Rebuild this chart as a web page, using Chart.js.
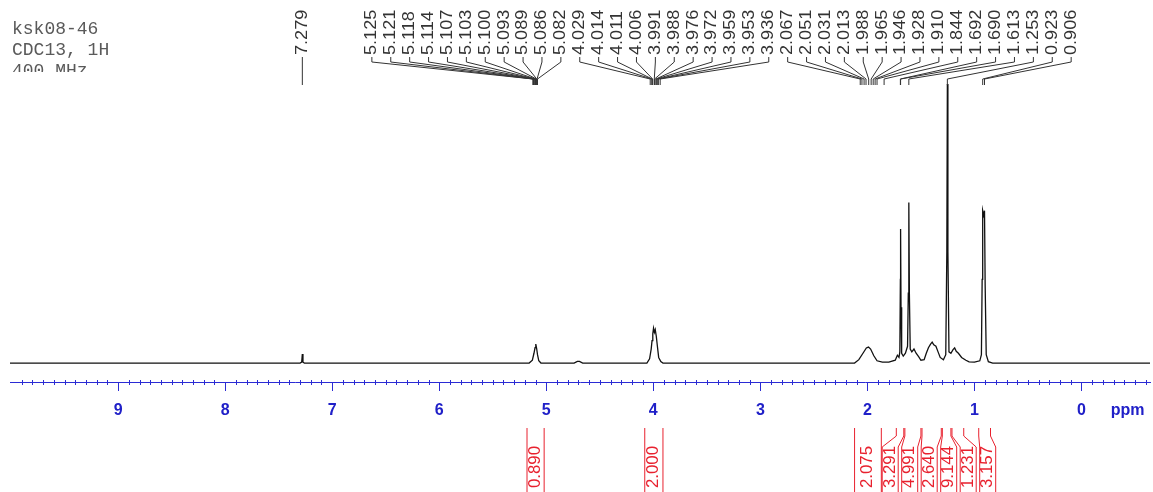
<!DOCTYPE html>
<html>
<head>
<meta charset="utf-8">
<script src="https://cdn.jsdelivr.net/npm/chart.js@4/dist/chart.umd.min.js"></script>
<style>
html, body { margin: 0; padding: 0; background: #fff; }
</style>
</head>
<body>
<canvas id="nmr" width="1153" height="492"></canvas>
<script>
// spectrum trace (ppm, relative intensity, 100 = tallest line)
const shiftPpm = [
  10.01, 7.30, 7.285, 7.279, 7.273, 7.26,
  5.16, 5.13, 5.115, 5.105, 5.098, 5.090, 5.082, 5.07, 5.05,
  4.74, 4.71, 4.69, 4.66,
  4.06, 4.035, 4.02, 4.012, 4.005, 3.998, 3.990, 3.982, 3.972, 3.962, 3.950, 3.93, 3.91,
  2.12, 2.08, 2.04, 2.01, 1.99, 1.97, 1.94, 1.91, 1.86,
  1.80, 1.74, 1.72, 1.705, 1.697, 1.692, 1.690, 1.686, 1.680, 1.665, 1.645, 1.625,
  1.618, 1.613, 1.608, 1.600, 1.585, 1.565, 1.545, 1.52, 1.50, 1.47, 1.45, 1.43,
  1.41, 1.395, 1.38, 1.36, 1.34, 1.32, 1.29, 1.268, 1.258, 1.253, 1.248, 1.238,
  1.22, 1.20, 1.185, 1.17, 1.15, 1.12, 1.08, 1.05, 1.00,
  0.95, 0.935, 0.928, 0.923, 0.914, 0.906, 0.900, 0.89, 0.87, 0.83, -0.64
];
const intensity = [
  0, 0, 0.3, 3.2, 0.3, 0,
  0, 1.0, 3.5, 5.5, 6.8, 5.2, 3.0, 0.8, 0,
  0, 0.6, 0.6, 0,
  0, 1.5, 5, 8, 10.5, 12.5, 11, 12, 9.5, 6, 2, 0.5, 0,
  0, 1.2, 3.6, 5.4, 5.7, 5.0, 2.6, 0.8, 0.3,
  0.3, 1.0, 2.8, 2.0, 4, 30, 48, 20, 3.5, 2.5, 3.5, 6,
  25, 57.5, 25, 5, 4, 5, 3.5, 2.2, 1.0, 1.2, 3.5, 5.5,
  6.8, 7.5, 6.5, 6.0, 4.0, 2.0, 1.2, 3, 40, 100, 40, 4,
  3.5, 4.8, 5.4, 4.2, 3.5, 2.0, 1.0, 0.4, 0.3,
  0.8, 3, 30, 54.6, 53, 54.6, 28, 3, 0.5, 0, 0
];
const tickValues = [0, 1, 2, 3, 4, 5, 6, 7, 8, 9];
const peakLabels = [
  7.279,
  5.125, 5.121, 5.118, 5.114, 5.107, 5.103, 5.100, 5.093, 5.089, 5.086, 5.082,
  4.029, 4.014, 4.011, 4.006, 3.991, 3.988, 3.976, 3.972, 3.959, 3.953, 3.936,
  2.067, 2.051, 2.031, 2.013, 1.988, 1.965, 1.946, 1.928, 1.910, 1.844,
  1.692, 1.690, 1.613, 1.253, 0.923, 0.906
];
const integralFrom = [5.18, 4.08, 2.12, 1.73, 1.65, 1.49, 1.30, 1.21, 0.96];
const integralTo = [5.02, 3.91, 1.87, 1.66, 1.50, 1.31, 1.22, 1.10, 0.85];
const integralValues = ['0.890', '2.000', '2.075', '3.291', '4.991', '2.640', '9.144', '1.231', '3.157'];
const headerLines = ['ksk08-46', 'CDC13, 1H', '400 MHz'];

const axisBlue = '#2b2bd4';
const integralRed = '#e8212e';

// place labels at their targets, packing crowded ones evenly around the group mean
function spread(targets, gap) {
  let groups = targets.map((t, i) => ({ idx: [i], sum: t }));
  const place = g => {
    const c = g.sum / g.idx.length;
    return g.idx.map((_, k) => c + (k - (g.idx.length - 1) / 2) * gap);
  };
  let changed = true;
  while (changed) {
    changed = false;
    for (let i = 0; i < groups.length - 1; i++) {
      const a = place(groups[i]), b = place(groups[i + 1]);
      if (b[0] - a[a.length - 1] < gap) {
        groups[i] = { idx: groups[i].idx.concat(groups[i + 1].idx), sum: groups[i].sum + groups[i + 1].sum };
        groups.splice(i + 1, 1);
        changed = true;
        break;
      }
    }
  }
  const out = [];
  groups.forEach(g => place(g).forEach((x, k) => { out[g.idx[k]] = x; }));
  return out;
}

function vText(ctx, text, x, y, stretch) {
  ctx.save();
  ctx.translate(x, y);
  ctx.rotate(-Math.PI / 2);
  ctx.scale(stretch, 1);
  ctx.textAlign = 'left';
  ctx.textBaseline = 'middle';
  ctx.fillText(text, 0, 0);
  ctx.restore();
}

const nmrDecor = {
  id: 'nmrDecor',
  afterDraw(chart) {
    const { ctx, chartArea } = chart;
    const x = chart.scales.x;
    const axisY = chartArea.bottom;
    ctx.save();

    // minor ticks every 0.1 ppm
    ctx.strokeStyle = axisBlue;
    ctx.lineWidth = 1;
    ctx.beginPath();
    for (let i = -6; i <= 100; i++) {
      if (i % 10 === 0) continue;
      const px = Math.round(x.getPixelForValue(i / 10)) + 0.5;
      ctx.moveTo(px, axisY - 2);
      ctx.lineTo(px, axisY + 3);
    }
    ctx.stroke();

    ctx.fillStyle = '#2020c8';
    ctx.font = 'bold 16px "Liberation Sans"';
    ctx.textAlign = 'center';
    ctx.textBaseline = 'middle';
    ctx.fillText('ppm', x.getPixelForValue(-0.43), axisY + 29);

    // header
    ctx.save();
    ctx.beginPath();
    ctx.rect(0, 0, 200, 72);
    ctx.clip();
    ctx.fillStyle = '#5a5a5a';
    ctx.font = '18px "Liberation Mono"';
    ctx.textAlign = 'left';
    ctx.textBaseline = 'alphabetic';
    headerLines.forEach((t, i) => ctx.fillText(t, 12, 34 + i * 21));
    ctx.restore();

    // peak labels
    const peakX = peakLabels.map(v => x.getPixelForValue(v));
    const labelX = spread(peakX, 18.9);
    ctx.fillStyle = '#333';
    ctx.strokeStyle = '#333';
    ctx.font = '16px "Liberation Sans"';
    peakLabels.forEach((v, i) => {
      vText(ctx, v.toFixed(3), labelX[i], 55, 1.13);
      ctx.beginPath();
      ctx.moveTo(labelX[i], 57);
      ctx.lineTo(labelX[i], 62);
      ctx.lineTo(peakX[i], 79);
      ctx.lineTo(peakX[i], 85);
      ctx.stroke();
    });

    // integrals
    const fromX = integralFrom.map(v => x.getPixelForValue(v));
    const toX = integralTo.map(v => x.getPixelForValue(v));
    const centers = fromX.map((a, i) => (a + toX[i]) / 2);
    const slots = spread(centers, 19.5);
    ctx.strokeStyle = integralRed;
    ctx.fillStyle = integralRed;
    ctx.font = '16px "Liberation Sans"';
    integralValues.forEach((t, i) => {
      const half = Math.abs(slots[i] - centers[i]) < 0.5 ? (toX[i] - fromX[i]) / 2 : 8;
      [[fromX[i], slots[i] - half], [toX[i], slots[i] + half]].forEach(([top, bot]) => {
        ctx.beginPath();
        ctx.moveTo(top, 428);
        ctx.lineTo(top, 436);
        ctx.lineTo(bot, 447);
        ctx.lineTo(bot, 492);
        ctx.stroke();
      });
      vText(ctx, t, slots[i], 488, 1.05);
    });

    ctx.restore();
  }
};

new Chart(document.getElementById('nmr').getContext('2d'), {
  type: 'scatter',
  data: {
    datasets: [{
      data: shiftPpm.map((p, i) => ({ x: p, y: intensity[i] })),
      showLine: true,
      borderColor: '#111',
      borderWidth: 1.3,
      pointRadius: 0,
      tension: 0
    }]
  },
  options: {
    responsive: false,
    animation: false,
    layout: { padding: { left: 10, right: 3, top: 84, bottom: 0 } },
    plugins: { legend: { display: false }, tooltip: { enabled: false } },
    scales: {
      x: {
        type: 'linear',
        reverse: true,
        min: -0.64,
        max: 10.01,
        afterBuildTicks: axis => { axis.ticks = tickValues.map(v => ({ value: v })); },
        afterFit: axis => { axis.height = 110; },
        border: { color: axisBlue, width: 1 },
        grid: { drawOnChartArea: false, tickLength: 9, color: axisBlue },
        ticks: {
          color: '#2020c8',
          font: { family: 'Liberation Sans', size: 16, weight: 'bold' },
          padding: 10,
          maxRotation: 0,
          autoSkip: false
        }
      },
      y: { display: false, min: -6.8, max: 100 }
    }
  },
  plugins: [nmrDecor]
});
</script>
</body>
</html>
